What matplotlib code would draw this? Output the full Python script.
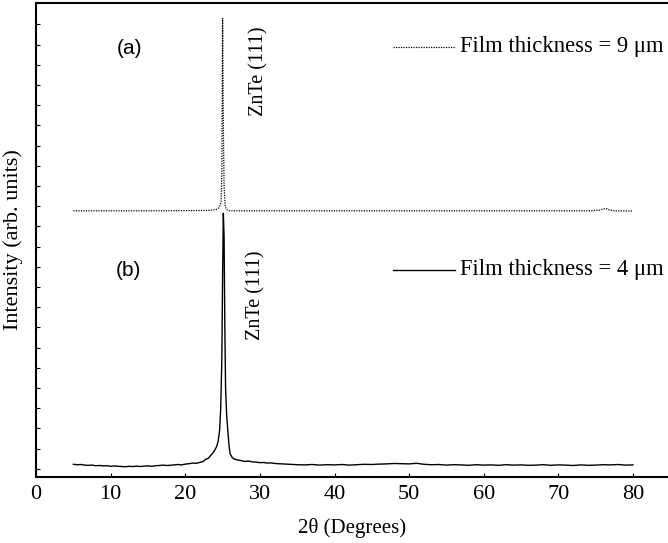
import numpy as np
import matplotlib.pyplot as plt

# XRD patterns, ZnTe films (arb. units)
tt_b = [5, 5.5, 6, 6.5, 7, 7.5, 8, 8.5, 9, 9.5, 10, 10.5, 11, 11.5, 12, 12.5,
        13, 13.5, 14, 14.5, 15, 15.5, 16, 16.5, 17, 17.5, 18, 18.5, 19, 19.5,
        20, 20.5, 21, 21.5, 22, 22.4, 22.7, 23.1, 23.4, 23.7, 24.0, 24.2, 24.4,
        24.6, 24.75, 24.9, 25.0, 25.1, 25.2, 25.3, 25.4, 25.55, 25.7, 25.85,
        26.0, 26.3, 26.6, 27, 27.5, 28, 28.5, 29, 29.5, 30, 30.5, 31, 31.5, 32,
        33, 34, 35, 36, 37, 38, 39, 40, 41, 42, 43, 44, 45, 46, 47, 48, 49, 50,
        51, 52, 53, 54, 55, 56, 57, 58, 59, 60, 61, 62, 63, 64, 65, 66, 67, 68,
        69, 70, 71, 72, 73, 74, 75, 76, 77, 78, 79, 80]
int_b = [0.22, 0.20, 0.21, 0.18, 0.17, 0.18, 0.15, 0.16, 0.14, 0.15, 0.12, 0.14,
         0.12, 0.11, 0.10, 0.12, 0.11, 0.13, 0.11, 0.13, 0.14, 0.12, 0.15, 0.16,
         0.18, 0.16, 0.17, 0.19, 0.21, 0.19, 0.23, 0.25, 0.28, 0.27, 0.32, 0.36,
         0.46, 0.52, 0.66, 0.78, 0.95, 1.10, 1.35, 1.9, 3.0, 5.5, 9.5, 12.65,
         11.5, 7.0, 4.0, 2.6, 1.9, 1.2, 0.75, 0.55, 0.47, 0.44, 0.40, 0.36, 0.38,
         0.34, 0.33, 0.30, 0.31, 0.28, 0.29, 0.26, 0.24, 0.22, 0.20, 0.19, 0.21,
         0.18, 0.20, 0.19, 0.21, 0.18, 0.20, 0.22, 0.21, 0.23, 0.24, 0.26, 0.25,
         0.24, 0.27, 0.22, 0.20, 0.21, 0.18, 0.20, 0.19, 0.17, 0.20, 0.18, 0.19,
         0.17, 0.20, 0.18, 0.19, 0.17, 0.18, 0.20, 0.17, 0.19, 0.18, 0.16, 0.19,
         0.17, 0.18, 0.20, 0.19, 0.21, 0.18, 0.19]

tt_a = [5, 10, 15, 20, 23, 24.0, 24.4, 24.6, 24.8, 24.9, 25.0, 25.1, 25.2,
        25.35, 25.5, 25.7, 26.0, 30, 40, 50, 60, 70, 74, 75.5, 76.0, 76.4,
        76.8, 77.5, 80]
int_a = [12.77, 12.77, 12.77, 12.78, 12.79, 12.82, 12.88, 13.0, 13.2, 14.5,
         22.3, 17.0, 14.0, 13.0, 12.85, 12.79, 12.77, 12.77, 12.77, 12.77, 12.77,
         12.77, 12.77, 12.80, 12.86, 12.88, 12.82, 12.77, 12.76]

xticks = [0, 10, 20, 30, 40, 50, 60, 70, 80]

serif = 'Liberation Serif'
fig = plt.figure(figsize=(6.68, 5.43), dpi=100)
ax = fig.add_axes([0.054, 0.1215, 0.946, 0.873])

ax.plot(tt_a, int_a, color='black', lw=0.9, ls=(0, (1, 1)))
ax.plot(tt_b, int_b, color='black', lw=1.0)

ax.set_xlim(0, 84.7)
ax.set_ylim(-0.41, 23.06)
ax.set_xticks(xticks)
ax.set_yticks(range(0, 23))
ax.set_yticklabels([])
ax.tick_params(axis='x', direction='in', length=3, labelsize=16, pad=6)
ax.tick_params(axis='y', direction='in', length=3)
for lab in ax.get_xticklabels():
    lab.set_family(serif)
ax.spines['right'].set_visible(False)
for s in ['left', 'bottom', 'top']:
    ax.spines[s].set_linewidth(1.5)

ax.set_xlabel('2θ (Degrees)', family=serif, fontsize=15, labelpad=10)
ax.set_ylabel('Intensity (arb. units)', family=serif, fontsize=16, labelpad=6)

ax.text(12.5, 20.8, '(a)', family='Liberation Sans', fontsize=15, ha='center', va='center')
ax.text(12.4, 9.8, '(b)', family='Liberation Sans', fontsize=15, ha='center', va='center')
ax.text(29.8, 19.7, 'ZnTe (111)', family=serif, fontsize=14.5, rotation=90, ha='center', va='center')
ax.text(29.4, 8.6, 'ZnTe (111)', family=serif, fontsize=14.5, rotation=90, ha='center', va='center')

# hand-placed legend entries
ax.plot([47.9, 56.2], [20.9, 20.9], color='black', lw=0.9, ls=(0, (1, 1)))
ax.text(56.8, 20.9, 'Film thickness = 9 μm', family=serif, fontsize=16.3, va='center')
ax.plot([47.9, 56.2], [9.84, 9.84], color='black', lw=1.0)
ax.text(56.8, 9.84, 'Film thickness = 4 μm', family=serif, fontsize=16.3, va='center')

fig.savefig('out.png', dpi=100)
